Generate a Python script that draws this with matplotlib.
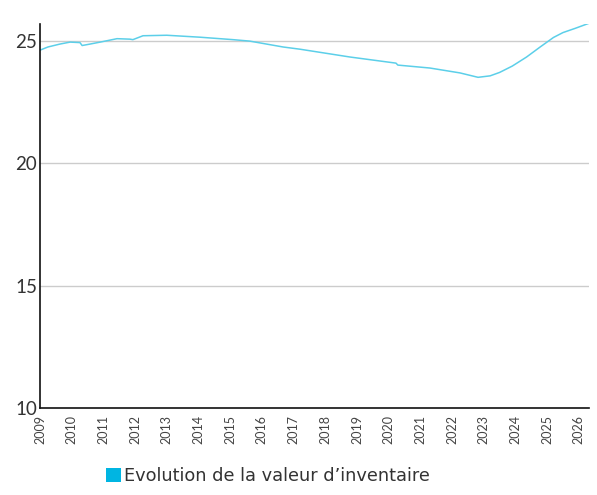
import matplotlib
matplotlib.use("Agg")
import matplotlib.pyplot as plt
from matplotlib.patches import Patch
import numpy as np

plt.rcParams['font.family'] = ['Lato', 'DejaVu Sans']

# inventory value over time (decimal years)
years = [2009.0, 2009.25, 2009.63, 2009.95, 2010.26, 2010.33, 2010.58, 2010.9,
         2011.43, 2011.84, 2011.93, 2012.25, 2013.0, 2014.05, 2015.09, 2015.62,
         2016.67, 2017.2, 2018.78, 2020.23, 2020.29, 2021.3, 2022.25, 2022.82,
         2023.2, 2023.5, 2023.9, 2024.35, 2024.8, 2025.2, 2025.5, 2025.88, 2026.32]
values = [24.63, 24.76, 24.88, 24.96, 24.94, 24.82, 24.88, 24.96,
          25.1, 25.08, 25.06, 25.22, 25.24, 25.16, 25.06, 25.0,
          24.76, 24.67, 24.35, 24.1, 24.02, 23.9, 23.7, 23.52,
          23.58, 23.72, 23.98, 24.35, 24.78, 25.15, 25.35, 25.52, 25.73]

tick_years = list(range(2009, 2027))
y_ticks = [10, 15, 20, 25]
series_name = "Evolution de la valeur d\u2019inventaire"
line_color = "#5ccfe9"
legend_color = "#00b5e2"

fig = plt.figure(figsize=(5.97, 4.95), dpi=100)
ax = fig.add_axes([40 / 597, 1 - 408 / 495, 549 / 597, 384 / 495])

ax.plot(years, values, color=line_color, linewidth=1.1)

ax.set_xlim(2009, 2026.32)
ax.set_ylim(10, 25.7)
ax.set_yticks(y_ticks)
ax.set_yticklabels([str(v) for v in y_ticks], fontsize=13.5, color="#333333")
ax.set_xticks(tick_years)
ax.set_xticklabels([str(y) for y in tick_years], rotation=90, fontsize=9,
                   color="#444444", va="top")
ax.tick_params(axis="both", length=0)
ax.tick_params(axis="y", pad=2)
ax.tick_params(axis="x", pad=5)

for v in y_ticks[1:]:
    ax.axhline(v, color="#cccccc", linewidth=1, zorder=0)

for side in ("top", "right"):
    ax.spines[side].set_visible(False)
for side in ("left", "bottom"):
    ax.spines[side].set_color("#111111")
    ax.spines[side].set_linewidth(1.2)

handle = Patch(facecolor=legend_color, edgecolor="none")
fig.legend([handle], [series_name], loc="center left",
           bbox_to_anchor=(106 / 597, 1 - 476 / 495), frameon=False,
           prop={"family": "DejaVu Sans", "size": 12.8},
           handlelength=0.85, handleheight=0.85,
           handletextpad=0.15, borderpad=0, borderaxespad=0,
           labelcolor="#333333")

fig.savefig("out.png", dpi=100)
